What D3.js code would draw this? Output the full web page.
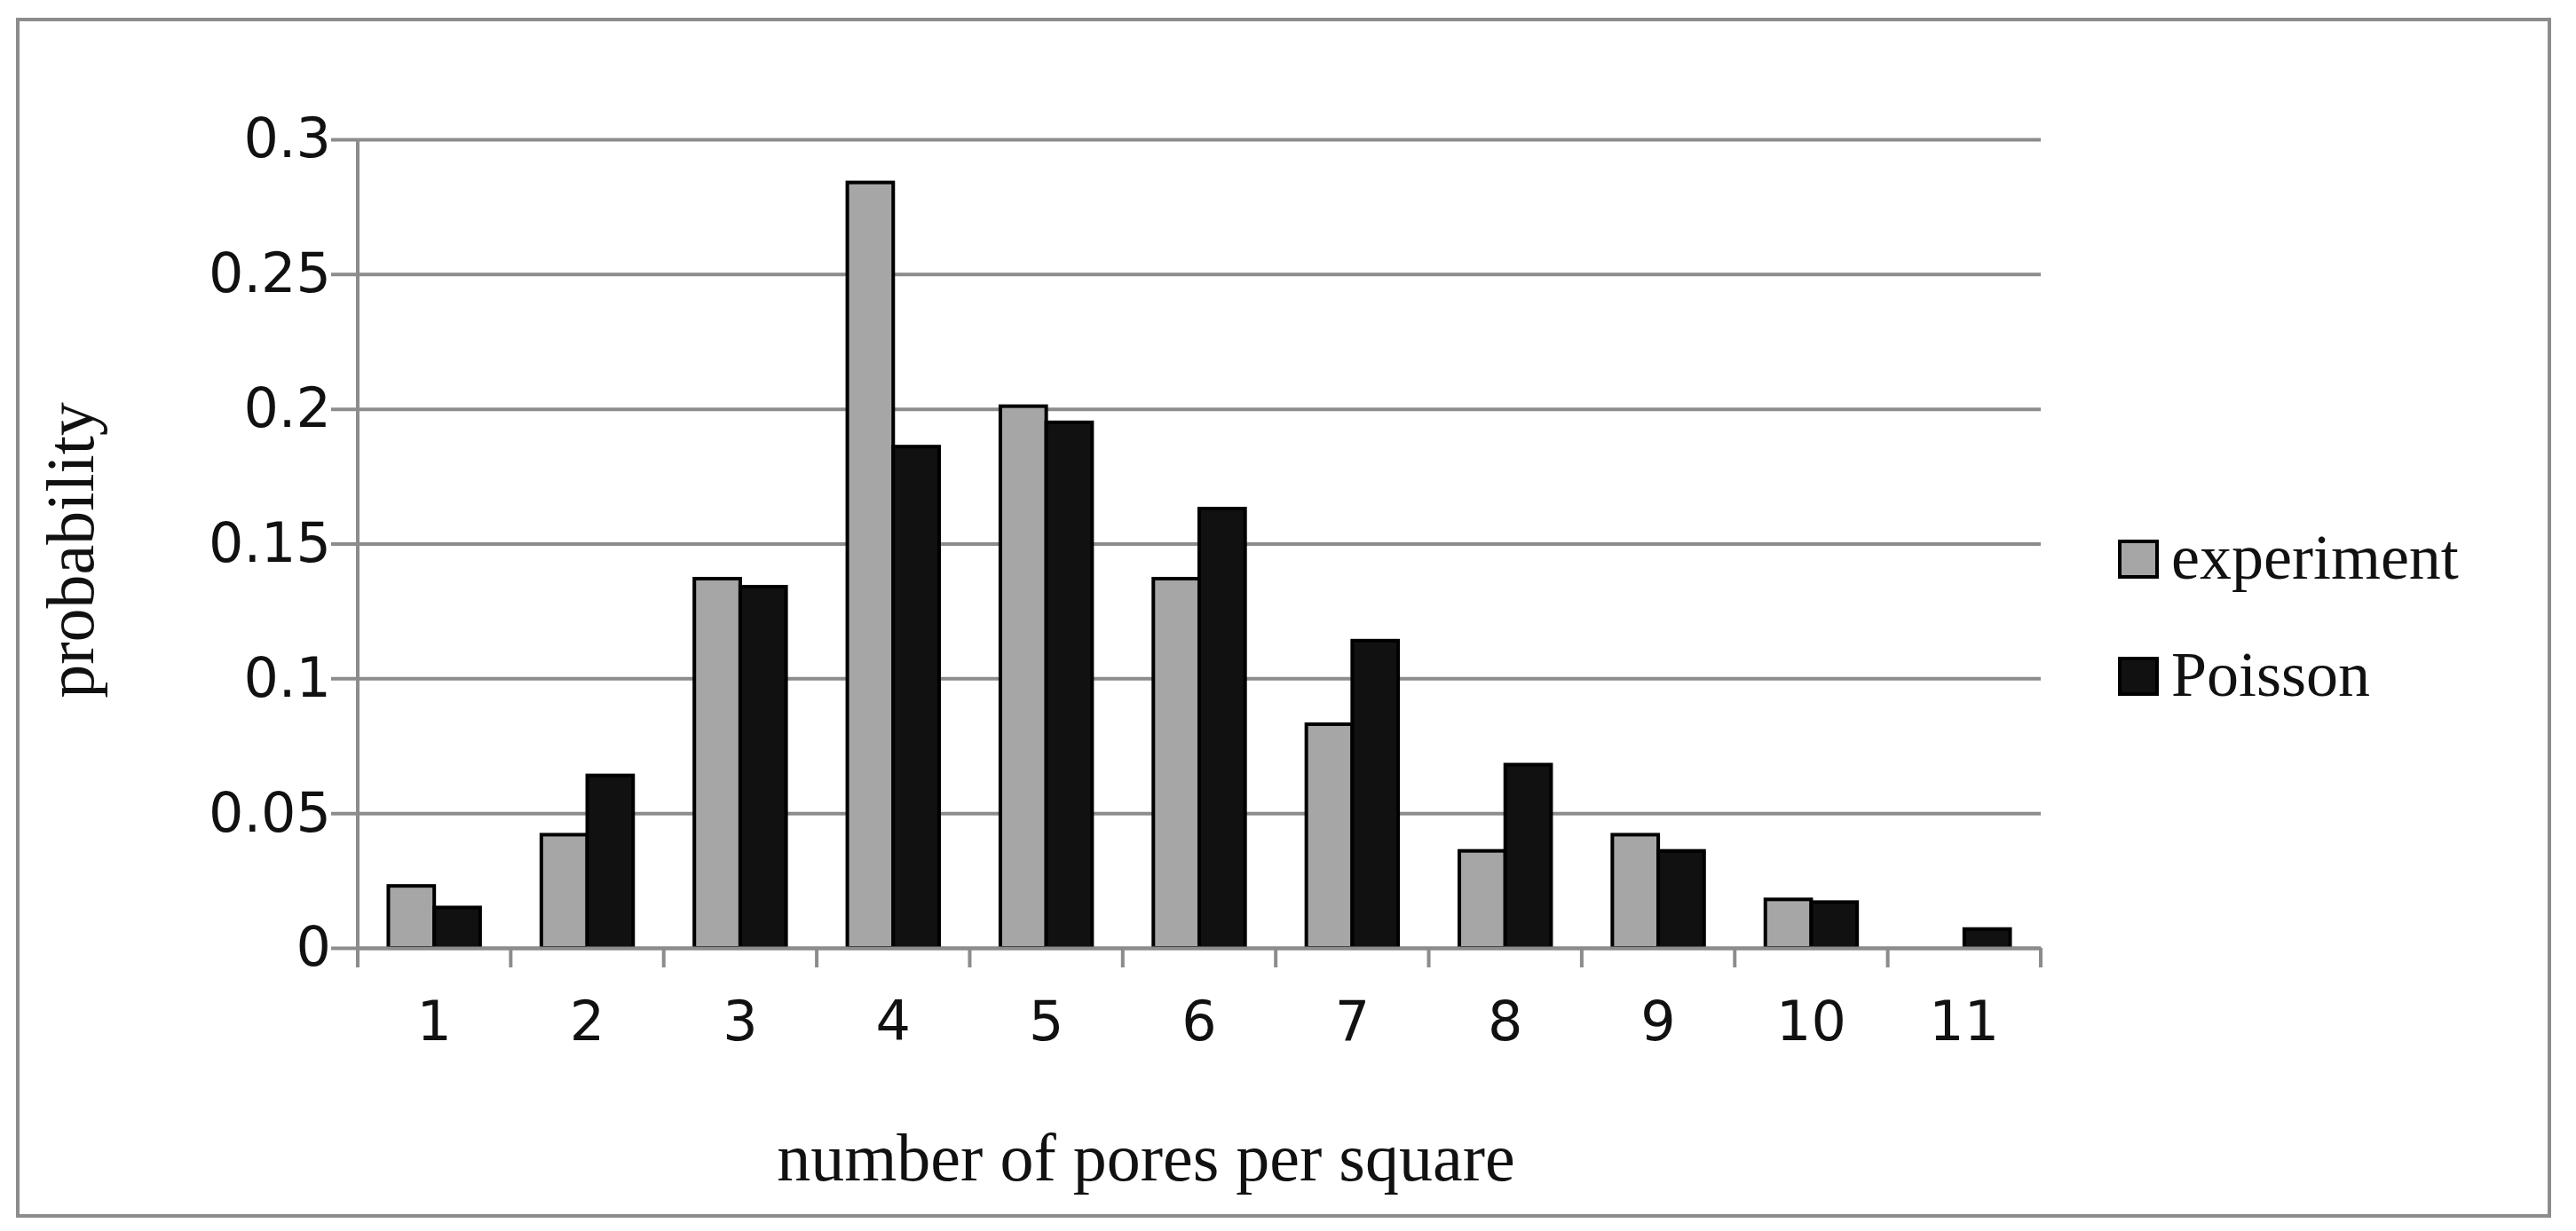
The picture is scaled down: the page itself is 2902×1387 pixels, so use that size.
<!DOCTYPE html>
<html>
<head>
<meta charset="utf-8">
<script src="https://cdn.jsdelivr.net/npm/d3@7"></script>
<style>
  body { margin: 0; background: #fff; }
  svg { display: block; }
</style>
</head>
<body>
<div id="chart"></div>
<script>
// Data
const categories = ["1", "2", "3", "4", "5", "6", "7", "8", "9", "10", "11"];
const experiment = [0.023, 0.042, 0.137, 0.284, 0.201, 0.137, 0.083, 0.036, 0.042, 0.018, 0];
const poisson = [0.015, 0.064, 0.134, 0.186, 0.195, 0.163, 0.114, 0.068, 0.036, 0.017, 0.007];
const yTicks = [0, 0.05, 0.1, 0.15, 0.2, 0.25, 0.3];
const seriesNames = ["experiment", "Poisson"];
const seriesColors = ["#a6a6a6", "#111111"];

const W = 2902, H = 1387;
const margin = { top: 157, right: 603, bottom: 319, left: 403 },
      width = W - margin.left - margin.right,
      height = H - margin.top - margin.bottom;

const root = d3.select("#chart")
  .append("svg")
    .attr("width", W)
    .attr("height", H);

// outer frame
root.append("rect")
  .attr("x", 20).attr("y", 22)
  .attr("width", 2852).attr("height", 1348)
  .attr("fill", "none")
  .attr("stroke", "#8c8c8c")
  .attr("stroke-width", 4);

const svg = root.append("g")
  .attr("transform", `translate(${margin.left},${margin.top})`);

const x = d3.scaleBand().domain(categories).range([0, width]).paddingInner(0.4).paddingOuter(0.2);
const x0 = d3.scaleBand().domain(categories).range([0, width]);
const xs = d3.scaleBand().domain(seriesNames).range([0, x.bandwidth()]);
const y = d3.scaleLinear().domain([0, 0.3]).range([height, 0]);

// gridlines + y labels
const yAxis = svg.append("g")
  .call(d3.axisLeft(y).tickValues(yTicks).tickSize(-width - 0).tickFormat(d => d3.format("")(d)).tickPadding(30));
yAxis.select(".domain").remove();
yAxis.selectAll(".tick line")
  .attr("x1", -30)
  .attr("stroke", "#8c8c8c").attr("stroke-width", 4);
yAxis.selectAll(".tick text")
  .attr("font-family", "DejaVu Sans")
  .attr("font-size", 62)
  .attr("fill", "#111");

// left axis line
svg.append("line")
  .attr("x1", 0).attr("x2", 0).attr("y1", 0).attr("y2", height + 22)
  .attr("stroke", "#8c8c8c").attr("stroke-width", 4);

// bars
const data = categories.map((c, i) => ({ c, vals: [experiment[i], poisson[i]] }));
const groups = svg.selectAll(".grp")
  .data(data)
  .join("g")
  .attr("transform", d => `translate(${x(d.c)},0)`);
groups.selectAll("rect")
  .data(d => d.vals.map((v, j) => ({ v, s: seriesNames[j], j })).filter(e => e.v > 0))
  .join("rect")
  .attr("x", e => xs(e.s))
  .attr("y", e => y(e.v))
  .attr("width", xs.bandwidth())
  .attr("height", e => height - y(e.v))
  .attr("fill", e => seriesColors[e.j])
  .attr("stroke", "#000")
  .attr("stroke-width", 4);

// x axis
const xAxis = svg.append("g")
  .attr("transform", `translate(0,${height})`)
  .call(d3.axisBottom(x0).tickSize(0).tickPadding(60));
xAxis.select(".domain")
  .attr("stroke", "#8c8c8c").attr("stroke-width", 4);
xAxis.selectAll(".tick text")
  .attr("font-family", "DejaVu Sans")
  .attr("font-size", 62)
  .attr("fill", "#111");
svg.append("g").selectAll("line")
  .data(d3.range(categories.length + 1))
  .join("line")
  .attr("x1", i => i * x0.step()).attr("x2", i => i * x0.step())
  .attr("y1", height).attr("y2", height + 22)
  .attr("stroke", "#8c8c8c").attr("stroke-width", 4);

// axis titles
root.append("text")
  .attr("x", margin.left + width / 2 - 60).attr("y", 1330)
  .attr("text-anchor", "middle")
  .attr("font-family", "Liberation Serif")
  .attr("font-size", 76)
  .attr("fill", "#111")
  .text("number of pores per square");
root.append("text")
  .attr("transform", `translate(105,620) rotate(-90)`)
  .attr("text-anchor", "middle")
  .attr("font-family", "Liberation Serif")
  .attr("font-size", 76)
  .attr("fill", "#111")
  .text("probability");

// legend
const legend = root.append("g").attr("transform", "translate(2388,0)");
seriesNames.forEach((s, i) => {
  const cy = 630 + i * 132;
  legend.append("rect")
    .attr("x", 0).attr("y", cy - 20)
    .attr("width", 42).attr("height", 40)
    .attr("fill", seriesColors[i])
    .attr("stroke", "#000").attr("stroke-width", 4);
  legend.append("text")
    .attr("x", 58).attr("y", cy + 22)
    .attr("font-family", "Liberation Serif")
    .attr("font-size", 72)
    .attr("fill", "#111")
    .text(s);
});
</script>
</body>
</html>
